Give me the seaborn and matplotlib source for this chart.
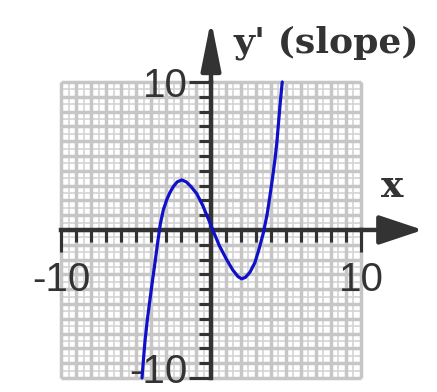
import numpy as np
import matplotlib
matplotlib.use("Agg")
import matplotlib.pyplot as plt
import matplotlib.transforms as mtransforms
import seaborn as sns
import pandas as pd

# Slope curve y'(x)
x_vals = [-4.60, -4.50, -4.40, -4.25, -4.07, -3.90, -3.72, -3.55, -3.38,
          -3.18, -2.95, -2.73, -2.50, -2.25, -1.95, -1.65, -1.35, -0.95,
          -0.55, -0.18, 0.16, 0.55, 1.04, 1.45, 1.80, 2.04, 2.30, 2.60,
          2.93, 3.20, 3.49, 3.75, 3.93, 4.10, 4.27, 4.40, 4.49, 4.60, 4.75]
slope_vals = [-10.0, -8.7, -7.5, -6.1, -4.7, -3.4, -2.1, -0.8, 0.4,
              1.35, 2.05, 2.55, 2.95, 3.25, 3.38, 3.25, 2.95, 2.45,
              1.65, 0.75, -0.1, -1.05, -2.0, -2.7, -3.15, -3.3, -3.2, -2.85,
              -2.2, -1.3, -0.2, 1.1, 2.3, 3.5, 4.8, 6.0, 7.1, 8.4, 10.0]

tick_values = [-10, 10]
tick_labels = ["-10", "10"]
axis_label_x = "x"
axis_label_y = "y' (slope)"

df = pd.DataFrame({"x": x_vals, "slope": slope_vals})

sns.set_style("white")
plt.rcParams["font.family"] = ["Liberation Sans", "DejaVu Sans"]

ink = "#333333"
fig = plt.figure(figsize=(4.37, 3.92), dpi=100)
ax = fig.add_axes([0, 0, 1, 1])
ax.set_xlim(-14.07, 15.07)
ax.set_ylim(-10.95, 15.54)

# background grid paper inside [-10, 10]: heavier unit lines, lighter half-unit lines
unit_pos = np.arange(-10, 10.01, 1.0)
half_pos = np.arange(-9.5, 9.6, 1.0)
ax.vlines(half_pos, -10, 10, color="#d4d4d4", lw=1.2, zorder=0)
ax.hlines(half_pos, -10, 10, color="#d4d4d4", lw=1.2, zorder=0)
ax.vlines(unit_pos, -10, 10, color="#c6c6c6", lw=2.5, zorder=0)
ax.hlines(unit_pos, -10, 10, color="#c6c6c6", lw=2.5, zorder=0)

# curve
sns.lineplot(data=df, x="x", y="slope", ax=ax, color="#1010c8", lw=2.3,
             sort=False, zorder=5)

# axes through the origin
for side in ["top", "right"]:
    ax.spines[side].set_visible(False)
for side in ["left", "bottom"]:
    ax.spines[side].set_position(("data", 0))
    ax.spines[side].set_bounds(-10, 10)
    ax.spines[side].set_linewidth(3.2)
    ax.spines[side].set_color(ink)
    ax.spines[side].set_zorder(4)

ax.set_xticks(tick_values, labels=tick_labels)
ax.set_yticks(tick_values, labels=tick_labels)
ax.set_xticks(np.arange(-10, 11, 1), minor=True)
ax.set_yticks(np.arange(-10, 11, 1), minor=True)
ax.tick_params(which="both", bottom=True, left=True, top=False, right=False)
ax.tick_params(which="major", direction="out", length=16, width=2.2,
               color=ink, labelcolor=ink, labelsize=29)
ax.tick_params(axis="x", which="major", pad=6)
ax.tick_params(axis="y", which="major", pad=1)
ax.tick_params(which="minor", direction="out", length=8.5, width=2.2, color=ink)
ax.set_xlabel("")
ax.set_ylabel("")

# lift the lowest y label a little so it stays inside the figure
low_label = ax.get_yticklabels()[0]
low_label.set_transform(low_label.get_transform() +
                        mtransforms.ScaledTranslation(0, 7.5 / 72, fig.dpi_scale_trans))

# arrow heads on the axes
ax.annotate("", xy=(14.13, 0), xytext=(9.9, 0),
            arrowprops=dict(arrowstyle="-|>,head_length=0.9,head_width=0.3",
                            mutation_scale=30, lw=3.2, color=ink,
                            shrinkA=0, shrinkB=0))
ax.annotate("", xy=(0, 14.19), xytext=(0, 9.9),
            arrowprops=dict(arrowstyle="-|>,head_length=1.0,head_width=0.2",
                            mutation_scale=30, lw=3.2, color=ink,
                            shrinkA=0, shrinkB=0))

ax.text(1.47, 11.96, axis_label_y, family="DejaVu Serif", fontsize=26,
        color=ink, ha="left", va="baseline", fontweight="bold")
ax.text(12.07, 2.23, axis_label_x, family="DejaVu Serif", fontsize=27,
        color=ink, ha="center", va="baseline", fontweight="bold")

fig.savefig("out.png", dpi=100, facecolor="white")
